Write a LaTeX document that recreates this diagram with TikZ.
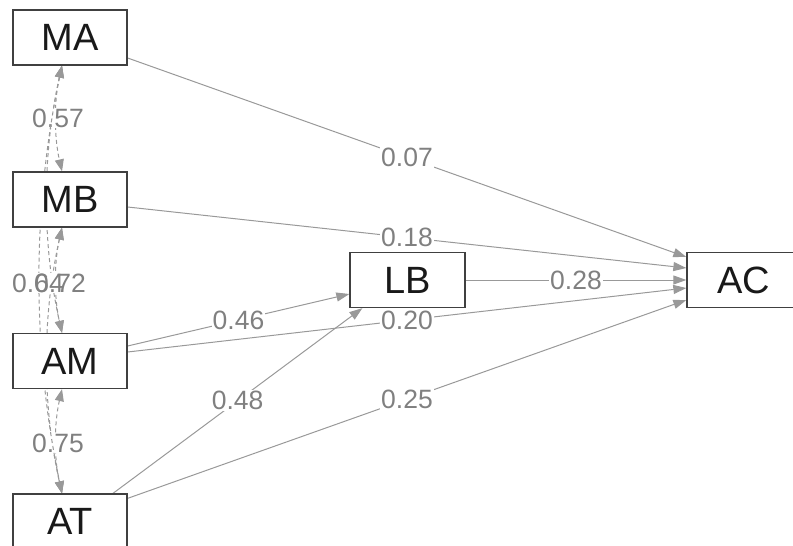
\documentclass[tikz,border=0pt]{standalone}
\usepackage{fontspec}
\setmainfont{Liberation Sans}
\usetikzlibrary{arrows.meta,calc}
\pgfdeclarelayer{bg}
\pgfsetlayers{bg,main}
\definecolor{edgegray}{HTML}{999999}
\definecolor{lblgray}{HTML}{808080}
\definecolor{boxline}{HTML}{404040}
\begin{document}
\begin{tikzpicture}[x=1pt,y=-1pt,
  var/.style={draw=boxline,line width=1.3pt,fill=white,minimum width=114pt,minimum height=55pt,inner sep=0pt,font=\fontsize{38}{38}\selectfont,text=black!90},
  regr/.style={draw=edgegray,line width=1pt,-{Triangle[length=13pt,width=9pt]}},
  cov/.style={draw=edgegray,line width=1pt,dash pattern=on 4pt off 3pt,{Triangle[length=12pt,width=9pt]}-{Triangle[length=12pt,width=9pt]}},
  lbl/.style={fill=white,inner sep=1pt,text=lblgray,font=\fontsize{26.5}{26.5}\selectfont}
]
\useasboundingbox (0,0) rectangle (793,546);
\clip (0,0) rectangle (793,546);

\node[var] (MA) at (70,37.5) {MA};
\node[var] (MB) at (70,199.5) {MB};
\node[var] (AM) at (70,361) {AM};
\node[var] (AT) at (70,521.5) {AT};
\node[var,minimum width=115pt] (LB) at (407.5,280) {LB};
\node[var] (AC) at (744,280) {AC};

\begin{pgfonlayer}{bg}
  % covariances
  \draw[cov] ($(MA.south)+(-8,0)$) .. controls +(-20,89) and +(-20,-89) .. ($(AM.north)+(-8,0)$);
  \draw[cov] ($(MB.south)+(-8,0)$) .. controls +(-20,89) and +(-20,-89) .. ($(AT.north)+(-8,0)$);
  \draw[cov] ($(MA.south)+(-8,0)$) .. controls +(-8,35) and +(-8,-35) .. ($(MB.north)+(-8,0)$);
  \node[lbl] (l57) at (58,118) {0.57};
  \draw[cov] ($(MB.south)+(-8,0)$) .. controls +(-8,35) and +(-8,-35) .. ($(AM.north)+(-8,0)$);
  \draw[cov] ($(AM.south)+(-8,0)$) .. controls +(-8,35) and +(-8,-35) .. ($(AT.north)+(-8,0)$);
  \node[lbl] (l75) at (58,443) {0.75};
  \draw[cov] ($(MA.south)+(-8,0)$) .. controls +(-30,143) and +(-30,-143) .. ($(AT.north)+(-8,0)$);
  \node[lbl] (l64) at (38,283) {0.64};
  \node[lbl,fill=none] (l72) at (60,283) {0.72};

  % regressions
  \draw[regr] ($(MA.east)+(0,20.5)$) -- ($(AC.west)+(0,-23)$) node[lbl,pos=0.5] (l07) {0.07};
  \draw[regr] ($(MB.east)+(0,7.5)$) -- ($(AC.west)+(0,-12)$) node[lbl,pos=0.5] (l18) {0.18};
  \draw[regr] (LB.east) -- (AC.west) node[lbl,pos=0.5] (l28) {0.28};
  \draw[regr] ($(AM.east)+(0,-15)$) -- ($(LB.west)+(0,14)$) node[lbl,pos=0.5] (l46) {0.46};
  \draw[regr] ($(AM.east)+(0,-9)$) -- ($(AC.west)+(0,8)$) node[lbl,pos=0.5] (l20) {0.20};
  \draw[regr] ($(AT.north)+(43,0)$) -- ($(LB.south west)+(13,0)$) node[lbl,pos=0.5] (l48) {0.48};
  \draw[regr] ($(AT.north east)+(0,5)$) -- ($(AC.west)+(0,20)$) node[lbl,pos=0.5] (l25) {0.25};
\end{pgfonlayer}
\end{tikzpicture}
\end{document}
